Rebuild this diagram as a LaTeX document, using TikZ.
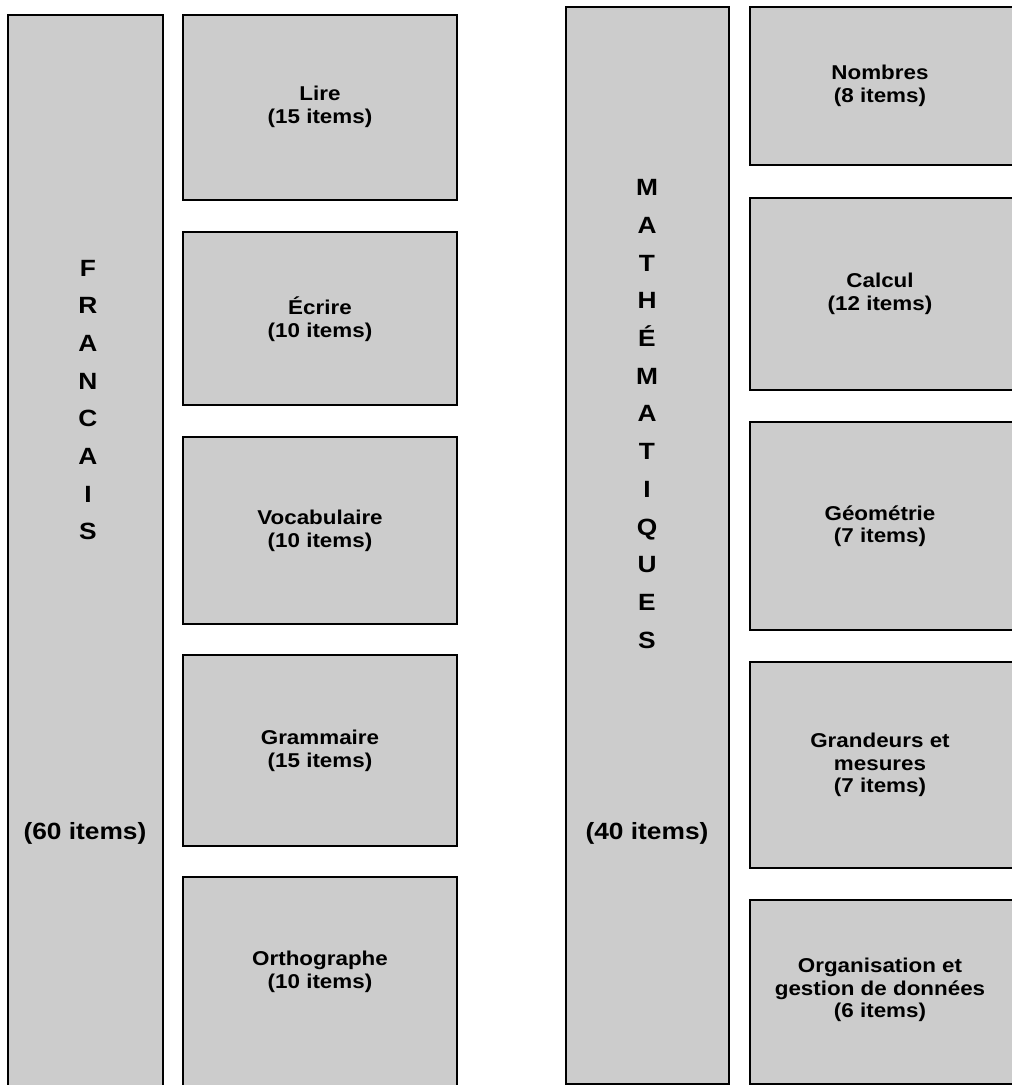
\documentclass[tikz,border=0pt]{standalone}
\usepackage{fontspec}
\setmainfont{Liberation Sans}[FakeStretch=1.12]
\definecolor{boxgray}{HTML}{CCCCCC}
\begin{document}
\begin{tikzpicture}[x=1pt,y=-1pt,
  box/.style={draw=black, line width=1.6pt, fill=boxgray, inner sep=0pt, rectangle},
  lab/.style={font=\bfseries\fontsize{20}{22.5}\selectfont, align=center, inner sep=0pt},
  vlab/.style={font=\bfseries\fontsize{23.5}{37.7}\selectfont, align=center, inner sep=0pt},
  clab/.style={font=\bfseries\fontsize{23.5}{26}\selectfont, align=center, inner sep=0pt}]
\useasboundingbox (0,0) rectangle (1012,1085);
\clip (0,0) rectangle (1012,1085);
% left column
\node[box, minimum width=155pt, minimum height=1090pt] (fr) at (85.5,560) {};
\node[box, minimum width=274pt, minimum height=185pt] (lire) at (320,107.5) {};
\node[box, minimum width=274pt, minimum height=173pt] (ecrire) at (320,318.5) {};
\node[box, minimum width=274pt, minimum height=187pt] (voca) at (320,530.5) {};
\node[box, minimum width=274pt, minimum height=191pt] (gram) at (320,750.5) {};
\node[box, minimum width=274pt, minimum height=230pt] (ortho) at (320,992) {};
% right column
\node[box, minimum width=163pt, minimum height=1077pt] (math) at (647.5,545.5) {};
\node[box, minimum width=266pt, minimum height=158pt] (nombres) at (883,86) {};
\node[box, minimum width=266pt, minimum height=192pt] (calcul) at (883,294) {};
\node[box, minimum width=266pt, minimum height=208pt] (geo) at (883,526) {};
\node[box, minimum width=266pt, minimum height=206pt] (grand) at (883,765) {};
\node[box, minimum width=266pt, minimum height=184pt] (orga) at (883,992) {};
% texts
\node[vlab] (frt) at (88,400) {F\\R\\A\\N\\C\\A\\I\\S};
\node[clab] (frn) at (85,833) {(60 items)};
\node[vlab] (matht) at (647,414) {M\\A\\T\\H\\É\\M\\A\\T\\I\\Q\\U\\E\\S};
\node[clab] (mathn) at (647,833) {(40 items)};
\node[lab] (liret) at (320,107) {Lire\\(15 items)};
\node[lab] (ecriret) at (320,319) {Écrire\\(10 items)};
\node[lab] (vocat) at (320,531) {Vocabulaire\\(10 items)};
\node[lab] (gramt) at (320,751) {Grammaire\\(15 items)};
\node[lab] (orthot) at (320,972) {Orthographe\\(10 items)};
\node[lab] (nombrest) at (880,86) {Nombres\\(8 items)};
\node[lab] (calcult) at (880,294) {Calcul\\(12 items)};
\node[lab] (geot) at (880,526) {Géométrie\\(7 items)};
\node[lab] (grandt) at (880,765) {Grandeurs et\\mesures\\(7 items)};
\node[lab] (orgat) at (880,990) {Organisation et\\gestion de données\\(6 items)};
\end{tikzpicture}
\end{document}
